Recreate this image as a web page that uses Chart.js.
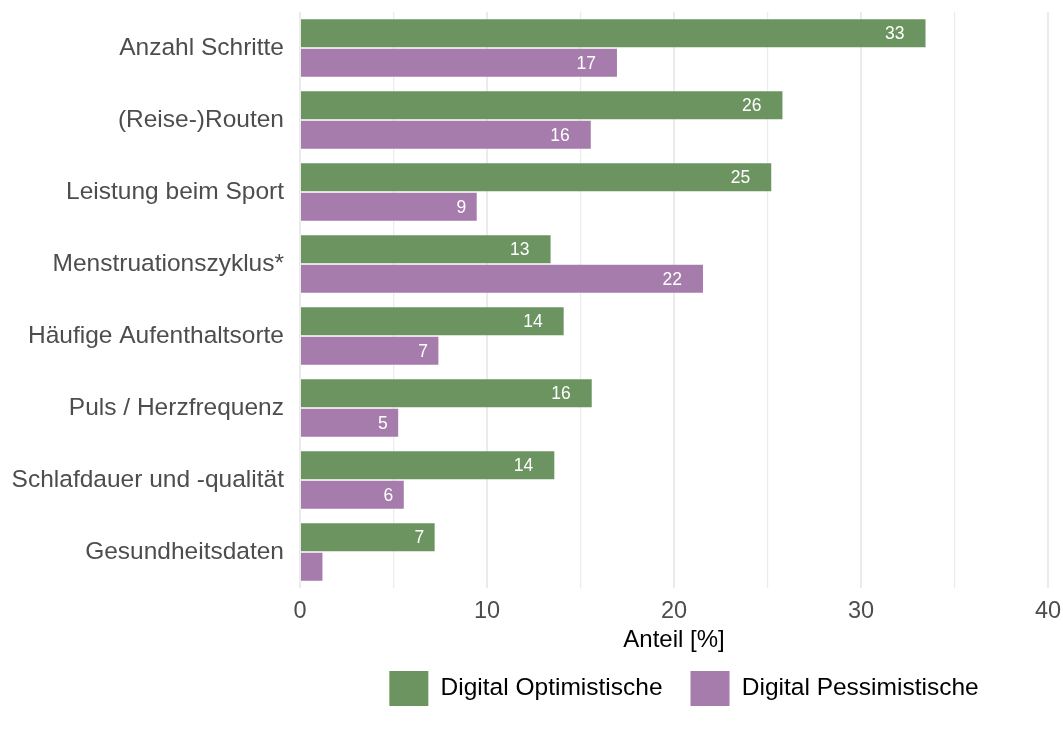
<!DOCTYPE html>
<html>
<head>
<meta charset="utf-8">
<script src="https://cdn.jsdelivr.net/npm/chart.js@4.4.0/dist/chart.umd.min.js"></script>
<style>
  html, body { margin: 0; padding: 0; background: #ffffff; }
  #wrap { width: 1063px; height: 733px; }
</style>
</head>
<body>
<div id="wrap"><canvas id="c" width="1063" height="733"></canvas></div>
<script>
// ---- data ----
const categories = [
  'Anzahl Schritte',
  '(Reise-)Routen',
  'Leistung beim Sport',
  'Menstruationszyklus*',
  'Häufige Aufenthaltsorte',
  'Puls / Herzfrequenz',
  'Schlafdauer und -qualität',
  'Gesundheitsdaten'
];
const seriesNames = ['Digital Optimistische', 'Digital Pessimistische'];
const optimistValues  = [33.45, 25.8, 25.2, 13.4, 14.1, 15.6, 13.6, 7.2];
const pessimistValues = [16.95, 15.55, 9.45, 21.55, 7.4, 5.25, 5.55, 1.2];
const xTickLabels = [0, 10, 20, 30, 40];
const xAxisTitle = 'Anteil [%]';

const FONT = "'Liberation Sans', Arial, Helvetica, sans-serif";

const valueLabels = {
  id: 'valueLabels',
  afterDatasetsDraw(chart) {
    const ctx = chart.ctx;
    ctx.save();
    ctx.font = '17.5px ' + FONT;
    ctx.fillStyle = '#ffffff';
    ctx.textAlign = 'right';
    ctx.textBaseline = 'middle';
    chart.data.datasets.forEach((ds, di) => {
      const meta = chart.getDatasetMeta(di);
      meta.data.forEach((bar, i) => {
        const v = ds.data[i];
        if (v < 3) return;
        const txt = String(Math.round(v));
        const w = ctx.measureText(txt).width;
        ctx.fillText(txt, bar.x - 1.08 * w, bar.y + 1);
      });
    });
    ctx.restore();
  }
};

const legendShift = {
  id: 'legendShift',
  afterLayout(chart) {
    if (chart.legend) {
      chart.legend.left += 10;
      chart.legend.right += 10;
    }
  }
};

new Chart(document.getElementById('c'), {
  type: 'bar',
  data: {
    labels: categories,
    datasets: [
      { label: seriesNames[0], data: optimistValues, backgroundColor: '#6B9460', borderWidth: 0,
        barPercentage: 0.95, categoryPercentage: 0.82 },
      { label: seriesNames[1], data: pessimistValues, backgroundColor: '#A67CAC', borderWidth: 0,
        barPercentage: 0.95, categoryPercentage: 0.82 }
    ]
  },
  options: {
    indexAxis: 'y',
    responsive: false,
    animation: false,
    devicePixelRatio: 1,
    layout: { padding: { top: 12, right: 15, bottom: 17, left: 0 } },
    scales: {
      x: {
        min: 0, max: 40,
        border: { display: false },
        grid: {
          drawTicks: false,
          color: '#EBEBEB',
          lineWidth: (c) => (c.tick && c.tick.value % 10 === 0) ? 2 : 1.2
        },
        ticks: {
          stepSize: 5,
          autoSkip: false,
          maxRotation: 0,
          padding: 12,
          color: '#4D4D4D',
          font: { family: FONT, size: 23.5, lineHeight: 1 },
          callback: (v) => xTickLabels.includes(v) ? String(v) : ''
        },
        title: {
          display: true,
          text: xAxisTitle,
          color: '#000000',
          font: { family: FONT, size: 24, lineHeight: 1 },
          padding: { top: -7.5, bottom: -9 }
        },
        afterFit: (s) => { s.paddingLeft = 0; s.paddingRight = 0; }
      },
      y: {
        border: { display: false },
        grid: { display: false, drawTicks: false },
        ticks: {
          padding: 16,
          color: '#4D4D4D',
          font: { family: FONT, size: 24.5 }
        },
        afterFit: (s) => { s.width = 300; s.paddingTop = 0; s.paddingBottom = 0; }
      }
    },
    plugins: {
      legend: {
        position: 'bottom',
        fullSize: false,
        labels: {
          boxWidth: 39,
          boxHeight: 35,
          padding: 28,
          color: '#000000',
          font: { family: FONT, size: 24.5 }
        }
      },
      tooltip: { enabled: false }
    }
  },
  plugins: [valueLabels, legendShift]
});
</script>
</body>
</html>
